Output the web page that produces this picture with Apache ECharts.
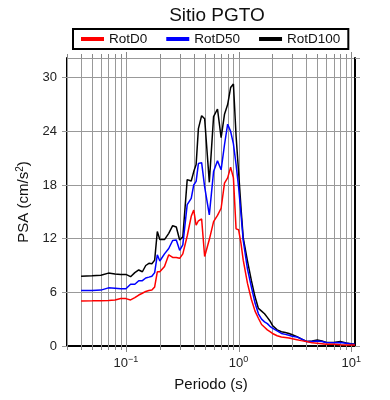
<!DOCTYPE html>
<html>
<head>
<meta charset="utf-8">
<script src="https://cdn.jsdelivr.net/npm/echarts@6/dist/echarts.min.js"></script>
<style>
  html, body { margin: 0; padding: 0; background: #fff; }
  #chart { width: 390px; height: 400px; }
</style>
</head>
<body>
<div id="chart"></div>
<script>
// periodos (s)
var periods = [0.04, 0.05, 0.06, 0.07, 0.08, 0.09, 0.1, 0.11, 0.12, 0.13, 0.14, 0.15, 0.16, 0.17, 0.18, 0.19,
  0.2, 0.22, 0.24, 0.26, 0.28, 0.3, 0.32, 0.35, 0.38, 0.4, 0.42, 0.44, 0.47, 0.5, 0.55, 0.6, 0.65, 0.7, 0.75,
  0.8, 0.85, 0.9, 0.95, 1.0, 1.05, 1.1, 1.2, 1.3, 1.4, 1.5, 1.6, 1.7, 1.8, 1.9, 2.0, 2.2, 2.4, 2.6, 2.8, 3.0,
  3.3, 3.6, 4.0, 4.5, 5.0, 5.5, 6.0, 7.0, 8.0, 9.0, 10.0, 10.8];

var rotD0 = [5.03, 5.05, 5.07, 5.1, 5.15, 5.3, 5.3, 5.15, 5.4, 5.7, 5.9, 6.1, 6.2, 6.25, 6.6, 8.3,
  8.3, 8.9, 10.2, 9.9, 9.9, 9.8, 10.3, 12.3, 14.5, 15.2, 13.5, 14.0, 14.2, 10.0, 11.9, 13.9, 14.6, 15.4, 18.2,
  18.8, 20.0, 18.8, 13.1, 13.0, 11.5, 9.6, 7.0, 5.2, 3.9, 3.1, 2.4, 2.1, 1.8, 1.6, 1.4, 1.15, 1.0, 0.95, 0.9, 0.8,
  0.7, 0.6, 0.5, 0.35, 0.3, 0.25, 0.2, 0.2, 0.15, 0.12, 0.1, 0.1];

var rotD50 = [6.2, 6.2, 6.25, 6.5, 6.45, 6.4, 6.4, 6.9, 6.9, 7.3, 7.3, 7.6, 7.7, 7.8, 8.2, 10.2,
  9.5, 10.3, 10.9, 11.8, 11.85, 10.7, 11.3, 15.8, 16.5, 18.0, 18.4, 20.4, 20.5, 17.8, 14.65, 19.5, 20.7, 19.7, 22.5,
  24.8, 24.0, 22.6, 20.3, 17.8, 14.8, 11.8, 8.6, 6.6, 4.8, 3.6, 3.0, 2.7, 2.5, 2.2, 2.0, 1.7, 1.4, 1.3, 1.2, 1.1,
  1.0, 0.8, 0.5, 0.5, 0.55, 0.5, 0.4, 0.37, 0.38, 0.3, 0.22, 0.2];

var rotD100 = [7.8, 7.85, 7.9, 8.15, 8.05, 8.0, 8.0, 7.75, 8.2, 8.5, 8.3, 9.0, 9.25, 9.2, 9.6, 12.8,
  11.9, 11.9, 12.6, 13.45, 13.3, 11.85, 12.2, 18.6, 18.45, 19.5, 20.3, 24.3, 25.75, 25.4, 18.3, 25.65, 26.5, 23.3, 25.9,
  27.0, 28.9, 29.3, 23.5, 19.5, 15.5, 12.1, 9.5, 7.3, 5.5, 4.2, 3.9, 3.6, 3.2, 2.8, 2.3, 1.8, 1.6, 1.5, 1.4, 1.25,
  1.05, 0.8, 0.5, 0.55, 0.67, 0.55, 0.4, 0.4, 0.5, 0.35, 0.25, 0.22];

var seriesNames = ['RotD0', 'RotD50', 'RotD100'];
var seriesColors = ['#ff0000', '#0000ff', '#000000'];

var xMin = 0.03, xMax = 10.8;
var yMin = 0, yMax = 32.2, yStep = 6;

// posiciones de la grilla logaritmica (1..9 x 10^n)
var gridPeriods = [];
for (var e = -2; e <= 1; e++) {
  for (var k = 1; k <= 9; k++) {
    var v = +(k * Math.pow(10, e)).toPrecision(3);
    if (v >= xMin - 1e-9 && v <= xMax) gridPeriods.push(v);
  }
}

function pairs(ys) {
  return periods.map(function (t, i) { return [t, ys[i]]; });
}

function isDecade(v) {
  var e = Math.log10(v);
  return Math.abs(e - Math.round(e)) < 1e-6;
}

var font = 'Liberation Sans, Arial, sans-serif';
var chart = echarts.init(document.getElementById('chart'), null, { renderer: 'canvas' });

var lineSeries = [rotD100, rotD50, rotD0].map(function (ys, i) {
  var idx = 2 - i;
  return {
    name: seriesNames[idx],
    type: 'line',
    data: pairs(ys),
    symbol: 'none',
    lineStyle: { color: seriesColors[idx], width: 1.5 },
    itemStyle: { color: seriesColors[idx] },
    z: 5
  };
});

var option = {
  animation: false,
  textStyle: { fontFamily: font },
  title: {
    text: 'Sitio PGTO',
    left: 212,
    textAlign: 'center',
    top: 1,
    textStyle: { fontSize: 19, fontWeight: 'normal', color: '#111', fontFamily: font }
  },
  legend: {
    data: seriesNames,
    left: 73,
    top: 29,
    padding: [3, 8, 3, 8],
    itemGap: 19,
    itemWidth: 23,
    itemHeight: 4,
    icon: 'rect',
    borderColor: '#000',
    borderWidth: 2,
    textStyle: { fontSize: 13.5, color: '#111', fontFamily: font }
  },
  grid: { left: 67, right: 35, top: 58, bottom: 54 },
  xAxis: [{
    type: 'log',
    logBase: 10,
    min: xMin,
    max: xMax,
    name: 'Periodo (s)',
    nameLocation: 'middle',
    nameGap: 31,
    nameTextStyle: { fontSize: 15, color: '#111', fontFamily: font },
    axisLine: { lineStyle: { color: '#000', width: 2 } },
    axisTick: { show: false },
    splitLine: { show: false },
    axisLabel: {
      margin: 9,
      color: '#222',
      fontSize: 13,
      fontFamily: font,
      showMinLabel: true,
      showMaxLabel: true,
      formatter: function (v) {
        if (!isDecade(v)) return '';
        var ex = Math.round(Math.log10(v));
        return '10{s|' + (ex < 0 ? '\u2212' + (-ex) : ex) + '}';
      },
      rich: { s: { fontSize: 9, padding: [0, 0, 8, 0], color: '#222', fontFamily: font } }
    }
  }, {
    type: 'log',
    logBase: 10,
    position: 'top',
    min: xMin,
    max: xMax,
    axisLine: { lineStyle: { color: '#000', width: 2 } },
    axisTick: { show: false },
    axisLabel: { show: false },
    splitLine: { show: false }
  }],
  yAxis: [{
    type: 'value',
    min: yMin,
    max: yMax,
    interval: yStep,
    name: 'PSA (cm/s{s|2})',
    nameLocation: 'middle',
    nameGap: 25,
    nameTextStyle: {
      fontSize: 15, color: '#111', fontFamily: font,
      rich: { s: { fontSize: 10, padding: [0, 0, 8, 0], color: '#111', fontFamily: font } }
    },
    axisLine: { show: true, lineStyle: { color: '#000', width: 2 } },
    axisTick: { show: true, length: 5, lineStyle: { color: '#999' } },
    axisLabel: { margin: 10, fontSize: 13, color: '#222', fontFamily: font, showMaxLabel: false },
    splitLine: { show: true, lineStyle: { color: '#999', width: 1 } }
  }, {
    type: 'value',
    position: 'right',
    min: yMin,
    max: yMax,
    interval: yStep,
    axisLine: { show: true, lineStyle: { color: '#000', width: 2 } },
    axisTick: { show: true, length: 5, lineStyle: { color: '#999' } },
    axisLabel: { show: false },
    splitLine: { show: false }
  }],
  series: [{
    // grilla vertical y marcas del eje logaritmico
    type: 'custom',
    silent: true,
    clip: false,
    z: 1,
    data: gridPeriods.map(function (t) { return [t, yMin]; }),
    renderItem: function (params, api) {
      var t = api.value(0);
      var len = isDecade(t) ? 6 : 4;
      var p0 = api.coord([t, yMin]);
      var p1 = api.coord([t, yMax]);
      var x = Math.round(p0[0]) + 0.5;
      return {
        type: 'group',
        children: [
          { type: 'line', shape: { x1: x, y1: p0[1], x2: x, y2: p1[1] }, style: { stroke: '#999', lineWidth: 1 } },
          { type: 'line', shape: { x1: x, y1: p0[1], x2: x, y2: p0[1] + len }, style: { stroke: '#888', lineWidth: 1 } },
          { type: 'line', shape: { x1: x, y1: p1[1], x2: x, y2: p1[1] - len }, style: { stroke: '#888', lineWidth: 1 } }
        ]
      };
    }
  }].concat(lineSeries)
};

chart.setOption(option);
</script>
</body>
</html>
